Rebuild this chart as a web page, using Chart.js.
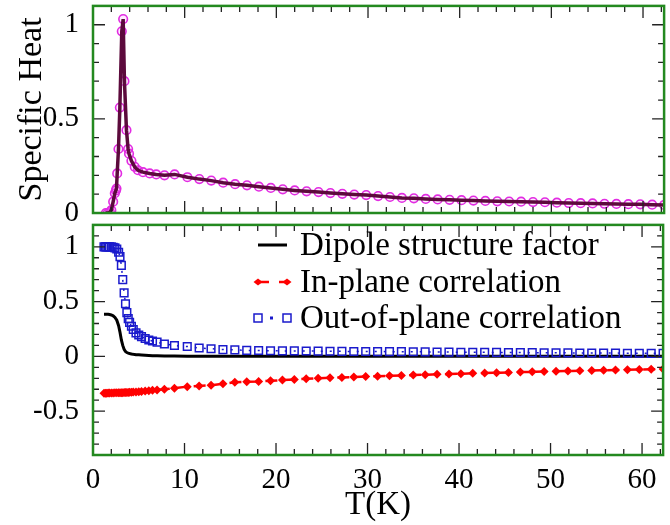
<!DOCTYPE html>
<html>
<head>
<meta charset="utf-8">
<script src="https://cdn.jsdelivr.net/npm/chart.js@4"></script>
<style>
  body { margin: 0; background: #fff; }
  #wrap { position: relative; width: 670px; height: 525px; }
  canvas { position: absolute; left: 0; }
</style>
</head>
<body>
<div id="wrap">
  <canvas id="heat" width="670" height="240" style="top:0"></canvas>
  <canvas id="corr" width="670" height="307" style="top:218px"></canvas>
</div>
<script>
// specific heat (top panel)
const shTemp = [1.4, 1.6, 1.84, 2.0, 2.2, 2.38, 2.5, 2.56, 2.64, 2.78, 2.93, 3.14, 3.29, 3.43, 3.65, 3.83, 3.93, 4.19, 4.55, 4.91,
  5.45, 6.18, 6.9, 7.8, 8.9, 10.3, 11.6, 12.9, 14.2, 15.5, 16.8, 18.1, 19.4, 20.7, 22.0, 23.3, 24.6, 25.9, 27.2, 28.5,
  29.8, 31.1, 32.4, 33.7, 35.0, 36.3, 37.6, 38.9, 40.2, 41.5, 42.8, 44.1, 45.4, 46.7, 48.0, 49.3, 50.6, 51.9, 53.2, 54.5,
  55.8, 57.1, 58.4, 59.7, 61.0, 62.3]
const shValue = [0.0, 0.0, 0.005, 0.015, 0.06, 0.105, 0.12, 0.13, 0.21, 0.34, 0.56, 0.965, 1.03, 0.70, 0.44, 0.34, 0.315, 0.277, 0.245, 0.227,
  0.217, 0.21, 0.205, 0.2, 0.205, 0.19, 0.18, 0.172, 0.161, 0.153, 0.147, 0.14, 0.133, 0.126, 0.12, 0.115, 0.111, 0.106, 0.102, 0.098,
  0.095, 0.09, 0.085, 0.08, 0.078, 0.075, 0.072, 0.07, 0.068, 0.066, 0.064, 0.062, 0.061, 0.06, 0.058, 0.057, 0.055, 0.053, 0.052, 0.051,
  0.049, 0.048, 0.047, 0.046, 0.044, 0.043]

// correlations (bottom panel)
const corrTemp = [1.2, 1.35, 1.5, 1.65, 1.8, 2.0, 2.2, 2.4, 2.6, 2.8, 2.95, 3.1, 3.25, 3.4, 3.55, 3.7, 3.85, 4.0, 4.2, 4.4,
  4.7, 5.0, 5.3, 5.7, 6.1, 6.5, 7.0, 7.8, 8.9, 10.3, 11.6, 12.9, 14.2, 15.5, 16.8, 18.1, 19.4, 20.7, 22.0, 23.3,
  24.6, 25.9, 27.2, 28.5, 29.8, 31.1, 32.4, 33.7, 35.0, 36.3, 37.6, 38.9, 40.2, 41.5, 42.8, 44.1, 45.4, 46.7, 48.0, 49.3,
  50.6, 51.9, 53.2, 54.5, 55.8, 57.1, 58.4, 59.7, 61.0, 62.3]
const dipoleFactor = [0.385, 0.385, 0.385, 0.384, 0.382, 0.378, 0.37, 0.355, 0.33, 0.28, 0.22, 0.15, 0.10, 0.065, 0.045, 0.035, 0.03, 0.026, 0.022, 0.019,
  0.016, 0.014, 0.012, 0.01, 0.008, 0.006, 0.005, 0.004, 0.003, 0.002, 0.002, 0.002, 0.002, 0.002, 0.002, 0.002, 0.001, 0.001, 0.001, 0.001,
  0.001, 0.001, 0.001, 0.001, 0.001, 0.001, 0.001, 0.001, 0.001, 0.001, 0.001, 0.001, 0.001, 0.001, 0.001, 0.001, 0.001, 0.001, 0.001, 0.001,
  0.001, 0.001, 0.001, 0.001, 0.001, 0.001, 0.001, 0.001, 0.001, 0.001]
const inPlane = [-0.336, -0.336, -0.336, -0.335, -0.335, -0.334, -0.334, -0.333, -0.333, -0.332, -0.332, -0.331, -0.331, -0.33, -0.33, -0.33, -0.329, -0.328, -0.327, -0.326,
  -0.324, -0.322, -0.32, -0.317, -0.314, -0.31, -0.306, -0.3, -0.29, -0.276, -0.27, -0.264, -0.25, -0.236, -0.232, -0.229, -0.223, -0.216, -0.21, -0.205,
  -0.2, -0.196, -0.192, -0.188, -0.184, -0.181, -0.177, -0.174, -0.171, -0.167, -0.164, -0.161, -0.158, -0.155, -0.152, -0.149, -0.146, -0.143, -0.141, -0.138,
  -0.136, -0.133, -0.131, -0.129, -0.126, -0.124, -0.122, -0.12, -0.117, -0.115]
const outPlane = [1.0, 1.0, 1.0, 1.0, 1.0, 1.0, 0.995, 0.99, 0.98, 0.95, 0.91, 0.83, 0.70, 0.58, 0.48, 0.40, 0.345, 0.31, 0.275, 0.245,
  0.215, 0.195, 0.18, 0.163, 0.15, 0.14, 0.13, 0.113, 0.099, 0.09, 0.077, 0.07, 0.062, 0.06, 0.055, 0.054, 0.051, 0.05, 0.05, 0.049,
  0.048, 0.047, 0.046, 0.045, 0.045, 0.044, 0.043, 0.043, 0.042, 0.041, 0.04, 0.039, 0.038, 0.037, 0.037, 0.036, 0.035, 0.035, 0.034, 0.033,
  0.033, 0.032, 0.031, 0.031, 0.03, 0.03, 0.029, 0.029, 0.028, 0.028]

const xTicks = [0, 10, 20, 30, 40, 50, 60]
const heatTicks = [0, 0.5, 1]
const corrTicks = [-0.5, 0, 0.5, 1]
const legendLabels = ['Dipole structure factor', 'In-plane correlation', 'Out-of-plane correlation']

const SERIF = "'Liberation Serif', 'Times New Roman', serif"
const GREEN = '#23891f'
const pts = (xs, ys) => xs.map((x, i) => ({ x: x, y: ys[i] }))

Chart.defaults.animation = false

// labels may hang past the box, the box itself stays put
function noLabelPadding(scale) {
    scale.paddingTop = 0
    scale.paddingBottom = 0
    scale.paddingLeft = 0
    scale.paddingRight = 0
}

// green box with inward ticks on all four sides
const framePlugin = {
    id: 'frame',
    afterDatasetsDraw: function (chart, args, opts) {
        const { ctx, chartArea: a } = chart
        const x = chart.scales.x, y = chart.scales.y
        ctx.save()
        ctx.strokeStyle = '#222'
        ctx.lineWidth = 1.3
        ctx.beginPath()
        for (let i = 0; i * 2 <= x.max; i++) {
            const px = x.getPixelForValue(i * 2)
            const len = i % 5 === 0 ? 12 : 6
            ctx.moveTo(px, a.bottom); ctx.lineTo(px, a.bottom - len)
            ctx.moveTo(px, a.top); ctx.lineTo(px, a.top + len)
        }
        for (let i = Math.ceil(y.min * 10); i <= Math.floor(y.max * 10); i++) {
            const py = y.getPixelForValue(i / 10)
            const len = i % 5 === 0 ? 12 : 6
            ctx.moveTo(a.left, py); ctx.lineTo(a.left + len, py)
            ctx.moveTo(a.right, py); ctx.lineTo(a.right - len, py)
        }
        ctx.stroke()
        ctx.strokeStyle = GREEN
        ctx.lineWidth = 2.5
        ctx.strokeRect(a.left, a.top, a.right - a.left, a.bottom - a.top)
        ctx.restore()
    }
}

const legendPlugin = {
    id: 'boxLegend',
    afterDraw: function (chart) {
        const ctx = chart.ctx
        const x0 = 258, x1 = 287, tx = 300
        const rows = [27, 64, 100]
        ctx.save()
        ctx.font = '33px ' + SERIF
        ctx.fillStyle = '#000'
        ctx.textBaseline = 'middle'
        legendLabels.forEach((t, i) => ctx.fillText(t, tx, rows[i] + 1))

        ctx.strokeStyle = '#000'; ctx.lineWidth = 3
        ctx.beginPath(); ctx.moveTo(x0, rows[0]); ctx.lineTo(x1, rows[0]); ctx.stroke()

        ctx.strokeStyle = '#f00'; ctx.fillStyle = '#f00'; ctx.lineWidth = 2.5
        ctx.beginPath(); ctx.moveTo(x0, rows[1]); ctx.lineTo(x0 + 11, rows[1])
        ctx.moveTo(x1 - 8, rows[1]); ctx.lineTo(x1, rows[1]); ctx.stroke()
        ;[x0, x1].forEach(px => {
            ctx.beginPath()
            ctx.moveTo(px - 4.5, rows[1]); ctx.lineTo(px, rows[1] - 3.5)
            ctx.lineTo(px + 4.5, rows[1]); ctx.lineTo(px, rows[1] + 3.5)
            ctx.closePath(); ctx.fill()
        })

        ctx.strokeStyle = '#1a1acc'; ctx.fillStyle = '#1a1acc'; ctx.lineWidth = 1.5
        ;[x0, x1].forEach(px => ctx.strokeRect(px - 4, rows[2] - 4, 8, 8))
        ctx.fillRect(x0 + 12, rows[2] - 1.5, 3, 3)
        ctx.restore()
    }
}

function yAxis(min, max, ticks, title) {
    return {
        type: 'linear',
        min: min,
        max: max,
        afterFit: (scale) => { scale.width = 93; noLabelPadding(scale) },
        afterBuildTicks: (scale) => { scale.ticks = ticks.map(v => ({ value: v })) },
        grid: { display: false },
        border: { display: false },
        ticks: {
            color: '#000',
            padding: 6,
            font: { family: SERIF, size: 29 },
            callback: (v) => String(v),
        },
        title: title ? {
            display: true,
            text: title,
            color: '#000',
            padding: { top: 12, bottom: 0 },
            font: { family: SERIF, size: 34 },
        } : { display: false },
    }
}

new Chart(document.getElementById('heat'), {
    type: 'scatter',
    data: {
        datasets: [
            {
                data: pts(shTemp, shValue),
                showLine: true,
                borderColor: '#5c0a3c',
                borderWidth: 3.5,
                pointRadius: 0,
                order: 0,
            },
            {
                data: pts(shTemp, shValue),
                showLine: false,
                pointStyle: 'circle',
                pointRadius: 4.3,
                pointBorderWidth: 1.6,
                pointBorderColor: '#e22ce2',
                pointBackgroundColor: 'rgba(255,120,255,0.15)',
                order: 1,
            },
        ]
    },
    options: {
        responsive: false,
        layout: { padding: { top: 5, right: 2, bottom: 27, left: 0 } },
        plugins: { legend: { display: false }, tooltip: { enabled: false } },
        scales: {
            x: { type: 'linear', min: 0, max: 62.3, display: false },
            y: yAxis(0, 1.1, heatTicks, 'Specific Heat'),
        }
    },
    plugins: [framePlugin]
})

new Chart(document.getElementById('corr'), {
    type: 'scatter',
    data: {
        datasets: [
            {
                data: pts(corrTemp, outPlane),
                showLine: true,
                borderColor: '#1a1acc',
                borderWidth: 1.5,
                borderDash: [2, 7],
                pointStyle: 'rect',
                pointRadius: 5.4,
                pointBorderWidth: 1.5,
                pointBorderColor: '#1a1acc',
                pointBackgroundColor: 'rgba(0,0,0,0)',
                order: 0,
            },
            {
                data: pts(corrTemp, inPlane),
                showLine: true,
                borderColor: '#f00',
                borderWidth: 2.5,
                borderDash: [12, 6],
                pointStyle: 'rectRot',
                pointRadius: 4.5,
                pointBorderWidth: 0,
                pointBackgroundColor: '#f00',
                order: 1,
            },
            {
                data: pts(corrTemp, dipoleFactor),
                showLine: true,
                borderColor: '#000',
                borderWidth: 3,
                pointRadius: 0,
                order: 2,
            },
        ]
    },
    options: {
        responsive: false,
        layout: { padding: { top: 2, right: 2, bottom: 0, left: 0 } },
        plugins: { legend: { display: false }, tooltip: { enabled: false } },
        scales: {
            x: {
                type: 'linear',
                min: 0,
                max: 62.3,
                afterFit: (scale) => { scale.height = 70; noLabelPadding(scale) },
                afterBuildTicks: (scale) => { scale.ticks = xTicks.map(v => ({ value: v })) },
                grid: { display: false },
                border: { display: false },
                ticks: {
                    color: '#000',
                    padding: 0,
                    maxRotation: 0,
                    font: { family: SERIF, size: 29 },
                },
                title: {
                    display: true,
                    text: 'T(K)',
                    color: '#000',
                    padding: { top: 0, bottom: 0 },
                    font: { family: SERIF, size: 33 },
                },
            },
            y: yAxis(-0.9, 1.2, corrTicks, null),
        }
    },
    plugins: [framePlugin, legendPlugin]
})
</script>
</body>
</html>
